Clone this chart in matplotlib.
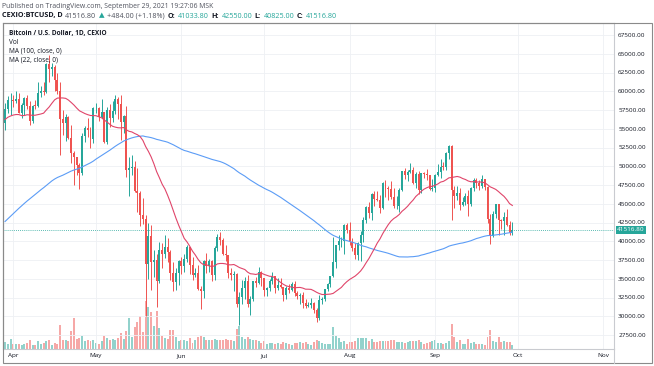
import numpy as np
import pandas as pd
import matplotlib
matplotlib.use("Agg")
import matplotlib.pyplot as plt
import matplotlib.dates as mdates
from matplotlib.patches import Rectangle
from matplotlib.lines import Line2D

plt.rcParams['font.family'] = ['Open Sans', 'DejaVu Sans']

# closes before the visible window (Dec 18 2020 .. Mar 28 2021), only used to warm up the MAs
history_closes = [
    23100, 23850, 23480, 22750, 23830, 23270, 23730, 24700, 26450, 26250, 27040, 27360, 28890, 28980,
    29400, 32200, 33000, 32000, 34000, 36800, 39400, 40600, 40200, 38200, 35500, 33900, 37300, 39200,
    36800, 36000, 35800, 36600, 36000, 35500, 30800, 33000, 32100, 32300, 32300, 32500, 30400, 33400,
    34300, 34300, 33100,
    33500, 35500, 37600, 36900, 38300, 39300, 38900, 46400, 46500, 44900, 48000, 47400, 47200, 48600,
    47900, 49200, 52200, 51600, 55900, 55900, 57500, 54100, 48900, 49700, 47000, 46300, 46200, 45200,
    49600, 48400, 50500, 48400, 48800, 48900, 51200, 52300, 54900, 55900, 57500, 57200, 61200, 59000,
    55600, 56900, 58900, 57700, 58100, 58100, 57400, 54100, 54400, 52300, 51300, 55000, 55800, 55800,
]

start_date = "2021-03-29"

highs = [
    58400, 59350, 59800,
    59460, 60000, 59750, 58500, 59250, 59500, 58650, 58200, 58900, 61200, 60700, 61300, 63800, 64850, 63800,
    63560, 62500, 61300, 57500, 57000, 56750, 55500, 52100, 51200, 50500, 54400, 55400, 56400, 55200, 57900,
    58450, 57950, 58950, 57250, 57950, 58350, 58650, 59500, 59250, 59550, 56850, 58000, 51300, 51500, 50700,
    49750, 46650, 45800, 43550, 42500, 42200, 38800, 38250, 39900, 39800, 40800, 40400, 38850, 37300, 36450, 37500,
    37900, 38250, 39450, 39250, 37900, 36450, 36800, 34050, 37500, 38400, 37650, 37450, 39350, 41000, 41300,
    40500, 39500, 38200, 36400, 36100, 35750, 33300, 34850, 35250, 35500, 32700, 34700, 35300, 36600, 36000,
    35050, 33950, 34950, 35950, 35300, 35100, 35050, 33950, 34100, 34250, 34600, 34650, 33350, 33100, 33200,
    32250, 31950, 32450, 31900, 31050, 32850, 32600, 33650, 34500, 35400, 40550, 39500, 40900, 40600, 42300, 42400,
    42600, 40450, 39750, 39950, 41400, 43300, 44700, 45300, 46450, 46700, 46750, 46200, 47900, 48150, 47400,
    48050, 47150, 46000, 47050, 49350, 49800, 49500, 50500, 49850, 49250, 49350, 49150, 49300, 49650, 48900, 48250,
    48950, 50350, 51000, 50550, 51900, 52900, 52850, 47350, 47350, 47050, 45950, 46450, 46900, 47250, 48450,
    48500, 48150, 48800, 48350, 47350, 43650, 44000, 44950, 45000, 42950, 43900, 44300, 42750, 42550,
]
lows = [
    54900, 57050, 56900,
    57950, 58500, 57050, 56500, 56800, 57600, 55500, 55800, 57700, 57900, 59200, 59500, 59800, 61300, 62000,
    60000, 59600, 51500, 54200, 53400, 53650, 50400, 47500, 48800, 47000, 48800, 53300, 53900, 52400, 53100,
    57050, 56050, 56500, 53050, 52950, 55250, 55950, 56950, 56250, 53550, 54400, 48600, 46000, 48800, 46600,
    43850, 42100, 42300, 30000, 35000, 33500, 35300, 31200, 34450, 36500, 37800, 37200, 34800, 33400, 33500, 34200,
    35700, 35950, 37200, 35600, 34850, 35250, 33500, 31000, 32400, 35800, 35950, 34650, 34800, 38750, 39500,
    38150, 37400, 35150, 34850, 33350, 31300, 28800, 31700, 32350, 31300, 30200, 32000, 33900, 34250, 34050,
    32700, 32700, 33350, 34300, 33150, 33550, 33800, 32100, 32300, 33050, 33350, 32700, 32250, 31600, 31150,
    31050, 31200, 31150, 30400, 29300, 29500, 31700, 32000, 33400, 33850, 35250, 36400, 38800, 39250, 38300, 41100,
    39450, 38700, 37600, 37500, 37350, 39900, 42450, 43150, 42850, 44700, 45350, 43800, 44250, 45950, 45550,
    45700, 44400, 44250, 43950, 46650, 48300, 48100, 49050, 47650, 47150, 46350, 46400, 48400, 48150, 46900, 46700,
    46550, 48650, 48400, 49550, 49500, 50950, 42900, 44400, 45550, 44200, 44750, 44800, 43400, 44700, 46700,
    47050, 46800, 47050, 46850, 42500, 39600, 40600, 43100, 40800, 41700, 40800, 42100, 40900, 40825,
]
closes = [
    57620, 58790, 58800,
    58730, 58980, 57080, 58200, 59120, 57990, 56000, 58090, 58080, 59770, 59980, 59840, 63580, 62950, 63230,
    61450, 60060, 56250, 55700, 56500, 53800, 51700, 51190, 50100, 49080, 54020, 55040, 54880, 53580, 57750,
    57830, 56620, 57200, 53240, 57480, 56430, 57380, 58900, 58240, 55860, 56710, 49530, 49700, 49900, 46750,
    46430, 43540, 42910, 37000, 40720, 37290, 37450, 34700, 38800, 38350, 39250, 38500, 35700, 34600, 35700, 37300,
    36700, 37600, 39250, 36850, 35550, 35800, 33580, 33400, 37350, 36700, 37330, 35550, 39100, 40520, 40150,
    38350, 38100, 35800, 35500, 35600, 31650, 32500, 33700, 34650, 31600, 32250, 34700, 34450, 35900, 35050,
    33550, 33800, 34700, 35300, 33700, 34220, 33880, 32880, 33800, 33520, 34260, 33100, 32720, 32820, 31780,
    31400, 31520, 31780, 30840, 29800, 32120, 32290, 33600, 34270, 35400, 37280, 39460, 40000, 40000, 42200, 41460,
    39850, 39150, 38200, 39700, 40870, 42840, 44600, 43800, 46300, 45600, 45560, 44430, 47830, 47100, 47030,
    45930, 44700, 44720, 46770, 49330, 48870, 49290, 49520, 47700, 48960, 46860, 49080, 48900, 48800, 46990, 47150,
    48840, 49280, 49950, 49920, 51790, 52690, 46860, 46080, 46400, 44850, 45170, 46050, 44960, 47100, 48150,
    47770, 47300, 48300, 47250, 43000, 40700, 43580, 44900, 42830, 42710, 43200, 42200, 41033.8, 41516.8,
]
volumes = [
    7, 5, 10,
    5, 5, 5, 4, 5, 6, 9, 4, 4, 8, 5, 6, 8, 9, 4, 6, 5, 24, 9, 9, 8, 18, 31, 10, 11, 13, 8, 9, 8, 9,
    6, 5, 8, 13, 11, 9, 10, 9, 11, 16, 10, 18, 31, 12, 22, 27, 33, 17, 48, 42, 37, 23, 38, 21, 13, 11, 10, 19, 19, 12, 8,
    9, 9, 8, 11, 6, 9, 12, 13, 12, 9, 9, 9, 10, 9, 9, 9, 10, 9, 9, 8, 20, 23, 12, 10, 12, 10, 9, 9, 8, 6,
    8, 5, 6, 6, 5, 6, 5, 7, 6, 5, 4, 6, 6, 7, 6, 7, 5, 4, 7, 9, 8, 6, 5, 5, 5, 22, 13, 11, 7, 8, 5,
    7, 7, 8, 11, 11, 11, 11, 8, 10, 7, 7, 8, 8, 8, 8, 9, 9, 7, 7, 7, 6, 7, 8, 8, 8, 9, 7, 5, 6, 7, 8,
    9, 6, 6, 5, 6, 8, 25, 12, 7, 9, 5, 5, 10, 6, 7, 5, 5, 5, 4, 12, 19, 8, 7, 12, 7, 8, 7, 7, 4,
]

price_ticks = list(range(27500, 67501, 2500))
month_ticks = ["2021-04-01", "2021-05-01", "2021-06-01", "2021-07-01",
               "2021-08-01", "2021-09-01", "2021-10-01", "2021-11-01"]
month_labels = ["Apr", "May", "Jun", "Jul", "Aug", "Sep", "Oct", "Nov"]
last_price = 41516.80

UP = "#26a69a"
DOWN = "#ef5350"
W, H = 654, 366

opens = [history_closes[-1]] + closes[:-1]
dates = pd.date_range(start_date, periods=len(closes), freq="D")
x = mdates.date2num(dates)
o = np.array(opens, dtype=float)
c = np.array(closes, dtype=float)
hi = np.array(highs, dtype=float)
lo = np.array(lows, dtype=float)
up = c >= o
colors = np.where(up, UP, DOWN)

all_closes = pd.Series(history_closes + closes, dtype=float)
ma100 = all_closes.rolling(100).mean().values[-len(closes):]
ma22 = all_closes.rolling(22).mean().values[-len(closes):]

fig = plt.figure(figsize=(W / 100, H / 100), dpi=100)
rect = [3 / W, 1 - 349 / H, (614 - 3) / W, (349 - 23) / H]

# volume pane underneath the price pane
axv = fig.add_axes(rect)
axv.bar(x, volumes, width=0.72, color=colors, alpha=0.5, linewidth=0)
axv.set_ylim(0, 326)
axv.axis("off")

ax = fig.add_axes(rect, sharex=axv)
ax.set_facecolor("none")
ax.vlines(x, lo, hi, colors=colors, linewidth=0.7, zorder=3)
body_lo = np.minimum(o, c)
body_h = np.maximum(np.abs(c - o), 60)
ax.bar(x, body_h, bottom=body_lo, width=0.72, color=colors, linewidth=0, zorder=4)

ax.plot(x, ma100, color="#5b9cf6", linewidth=0.8, zorder=5)
ax.plot(x, ma22, color="#e0456a", linewidth=0.8, zorder=5)

ax.axhline(last_price, color=UP, linewidth=0.6, linestyle=(0, (1, 1.5)), zorder=2)

x0 = mdates.date2num(pd.Timestamp("2021-04-01")) - 10.3 / 2.757
x1 = x0 + 611 / 2.757
ax.set_xlim(x0, x1)
ax.set_ylim(67500 - 314 / 0.0075, 67500 + 12 / 0.0075)

ax.set_xticks(mdates.date2num(pd.to_datetime(month_ticks)))
ax.set_xticklabels(month_labels)
ax.yaxis.tick_right()
ax.set_yticks(price_ticks)
ax.set_yticklabels([f"{v:.2f}" for v in price_ticks])
ax.tick_params(axis="both", length=0, labelsize=4.6, colors="#131722")
ax.tick_params(axis="x", pad=3.2)
ax.tick_params(axis="y", pad=3.0)
ax.grid(True, color="#eef0f4", linewidth=0.6, zorder=0)

for side in ["left", "top"]:
    ax.spines[side].set_color("#8a8a8a")
    ax.spines[side].set_linewidth(0.8)
for side in ["right", "bottom"]:
    ax.spines[side].set_color("#c9cbd0")
    ax.spines[side].set_linewidth(0.8)

# outer frame and the price-scale divider running down to it
fig.add_artist(Rectangle((3 / W, 1 - 363 / H), (652 - 3) / W, (363 - 23) / H,
                         transform=fig.transFigure, fill=False, edgecolor="#8a8a8a", linewidth=0.8))
fig.add_artist(Line2D([614 / W, 614 / W], [1 - 349 / H, 1 - 363 / H],
                      transform=fig.transFigure, color="#c9cbd0", linewidth=0.8))

# last price label on the scale
ax.annotate(f"{last_price:.2f}", xy=(1.0, last_price), xycoords=("axes fraction", "data"),
            xytext=(17, 0), textcoords="offset pixels", ha="center", va="center",
            fontsize=4.6, color="white",
            bbox=dict(boxstyle="square,pad=0.25", facecolor=UP, edgecolor="none"))

renderer = fig.canvas.get_renderer()


def text_row(x_px, y_px, pieces, size, gap=1.5):
    for s, color, weight in pieces:
        t = fig.text(x_px / W, 1 - y_px / H, s, color=color, fontsize=size,
                     fontweight=weight, va="center", ha="left")
        x_px += t.get_window_extent(renderer).width + gap


text_row(2, 6, [("Published on TradingView.com, September 29, 2021 19:27:06 MSK", "#50535e", "normal")], 4.95)
text_row(2, 16, [
    ("CEXIO:BTCUSD, D", "#131722", "bold"),
    ("41516.80", "#50535e", "normal"),
    ("\u25b2", UP, "normal"),
    ("+484.00 (+1.18%)", "#50535e", "normal"),
    ("O:", "#131722", "bold"), ("41033.80", UP, "normal"),
    ("H:", "#131722", "bold"), ("42550.00", UP, "normal"),
    ("L:", "#131722", "bold"), ("40825.00", UP, "normal"),
    ("C:", "#131722", "bold"), ("41516.80", UP, "normal"),
], 5.2, gap=2.6)

legend_lines = [("Bitcoin / U.S. Dollar, 1D, CEXIO", "bold"), ("Vol", "normal"),
                ("MA (100, close, 0)", "normal"), ("MA (22, close, 0)", "normal")]
for i, (s, wgt) in enumerate(legend_lines):
    fig.text(9 / W, 1 - (33.5 + 8.8 * i) / H, s, fontsize=4.7, fontweight=wgt,
             color="#131722", va="center", ha="left")

fig.savefig("out.png", dpi=100, facecolor="white")
